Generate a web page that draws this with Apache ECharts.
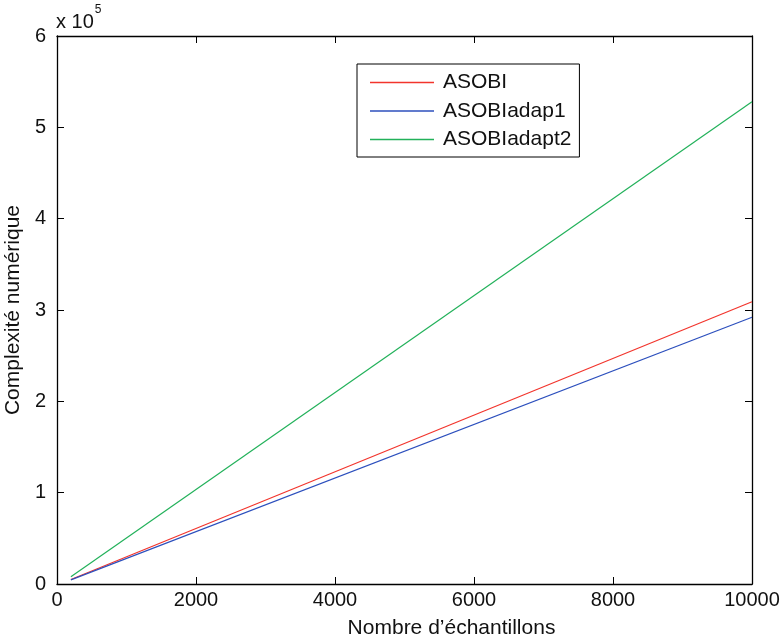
<!DOCTYPE html>
<html>
<head>
<meta charset="utf-8">
<script src="https://cdn.jsdelivr.net/npm/echarts@6/dist/echarts.min.js"></script>
<style>
  html, body { margin: 0; padding: 0; background: #fff; }
  #chart { width: 782px; height: 643px; }
</style>
</head>
<body>
<div id="chart"></div>
<script>
// données (x : nombre d'échantillons, y : complexité)
const samples = [200, 10000]
const asobi = [5000, 309000]
const asobiAdap1 = [4500, 292000]
const asobiAdapt2 = [8000, 528000]
const seriesNames = ['ASOBI', 'ASOBIadap1', 'ASOBIadapt2']
const seriesColors = ['#f2342c', '#2c4fbd', '#22b15a']
const xTicks = [0, 2000, 4000, 6000, 8000, 10000]
const yTicks = [0, 1, 2, 3, 4, 5, 6] // x 10^5

const FONT = 'Liberation Sans'

function pairs(xs, ys) {
  return xs.map((x, i) => [x, ys[i]])
}

const chart = echarts.init(document.getElementById('chart'), null, { renderer: 'canvas' })

const tickStyle = { show: true, inside: true, length: 7, lineStyle: { color: '#000', width: 1 } }
const lineStyleAxis = { color: '#000', width: 1.3 }

const option = {
  backgroundColor: '#fff',
  animation: false,
  textStyle: { fontFamily: FONT },
  grid: { left: 57, right: 30, top: 36, bottom: 59, containLabel: false, outerBoundsMode: 'none' },
  legend: {
    left: 357,
    top: 64,
    orient: 'vertical',
    padding: [8, 8, 7, 13],
    borderColor: '#000',
    borderWidth: 1,
    backgroundColor: '#fff',
    icon: 'rect',
    itemWidth: 64,
    itemHeight: 1.5,
    itemGap: 7.5,
    textStyle: { fontFamily: FONT, fontSize: 21, color: '#111', padding: [0, 0, 0, 4] },
    data: seriesNames
  },
  xAxis: [{
    type: 'value',
    min: xTicks[0],
    max: xTicks[xTicks.length - 1],
    interval: 2000,
    name: 'Nombre d\u2019échantillons',
    nameLocation: 'middle',
    nameGap: 34,
    // le titre est décalé à droite dans la figure d'origine
    nameTextStyle: { fontFamily: FONT, fontSize: 21, color: '#111', padding: [0, 0, 0, 94] },
    axisLine: { show: true, onZero: false, lineStyle: lineStyleAxis },
    axisTick: tickStyle,
    axisLabel: { fontFamily: FONT, fontSize: 20, color: '#111', margin: 6, formatter: v => String(v) },
    splitLine: { show: false }
  }, {
    type: 'value',
    position: 'top',
    min: xTicks[0],
    max: xTicks[xTicks.length - 1],
    interval: 2000,
    axisLine: { show: true, onZero: false, lineStyle: lineStyleAxis },
    axisTick: tickStyle,
    axisLabel: { show: false },
    splitLine: { show: false }
  }],
  yAxis: [{
    type: 'value',
    min: yTicks[0] * 1e5,
    max: yTicks[yTicks.length - 1] * 1e5,
    interval: 1e5,
    name: 'Complexité numérique',
    nameLocation: 'middle',
    nameGap: 28,
    nameRotate: 90,
    nameTextStyle: { fontFamily: FONT, fontSize: 21, color: '#111' },
    axisLine: { show: true, onZero: false, lineStyle: lineStyleAxis },
    axisTick: tickStyle,
    axisLabel: { fontFamily: FONT, fontSize: 20, color: '#111', margin: 11, formatter: v => String(Math.round(v / 1e5)) },
    splitLine: { show: false }
  }, {
    type: 'value',
    position: 'right',
    min: yTicks[0] * 1e5,
    max: yTicks[yTicks.length - 1] * 1e5,
    interval: 1e5,
    axisLine: { show: true, onZero: false, lineStyle: lineStyleAxis },
    axisTick: tickStyle,
    axisLabel: { show: false },
    splitLine: { show: false }
  }],
  graphic: [{
    type: 'text',
    left: 56,
    top: 4,
    style: {
      text: '{b|x 10}{s|5}',
      rich: {
        b: { fontFamily: FONT, fontSize: 20, fill: '#111', padding: [8, 0, 0, 0] },
        s: { fontFamily: FONT, fontSize: 12, fill: '#111', verticalAlign: 'top', padding: [0, 0, 0, 1] }
      }
    }
  }],
  series: [
    { name: seriesNames[0], data: pairs(samples, asobi) },
    { name: seriesNames[1], data: pairs(samples, asobiAdap1) },
    { name: seriesNames[2], data: pairs(samples, asobiAdapt2) }
  ].map((s, i) => ({
    ...s,
    type: 'line',
    symbol: 'none',
    color: seriesColors[i],
    lineStyle: { color: seriesColors[i], width: 1.2 },
    z: 3
  }))
}

chart.setOption(option)
</script>
</body>
</html>
